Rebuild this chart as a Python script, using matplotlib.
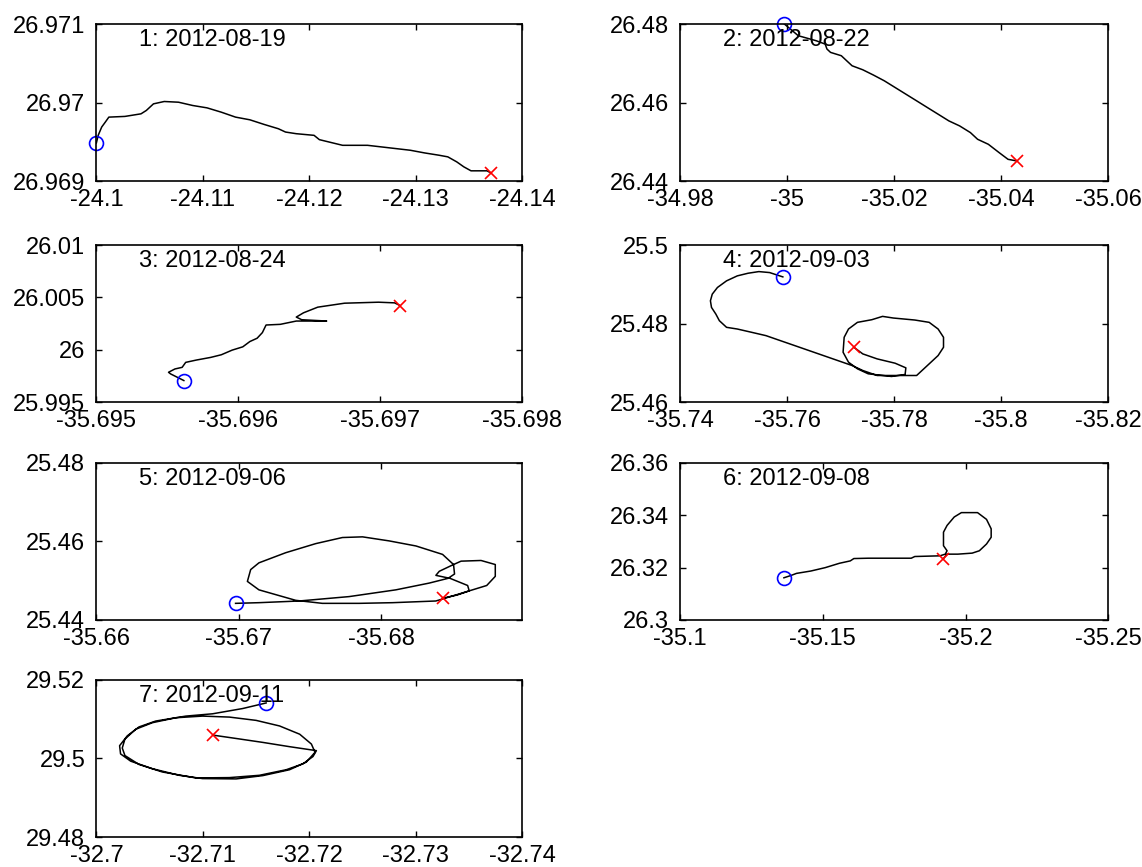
import matplotlib
matplotlib.use('Agg')
import matplotlib.pyplot as plt
import numpy as np
from matplotlib.ticker import FuncFormatter

plt.rcParams['font.family'] = ['Liberation Sans', 'DejaVu Sans']
plt.rcParams['font.size'] = 17
plt.rcParams['axes.unicode_minus'] = False

# float track positions, one list pair per day (first point = start, last = end)
dates = ['2012-08-19', '2012-08-22', '2012-08-24', '2012-09-03',
         '2012-09-06', '2012-09-08', '2012-09-11']

lon1 = [-24.1000, -24.10017, -24.1005, -24.10084, -24.10117, -24.10268, -24.10419,
        -24.10469, -24.10536, -24.10637, -24.10771, -24.10905, -24.11039, -24.11173,
        -24.11307, -24.11441, -24.11575, -24.11709, -24.11776, -24.11876, -24.12044,
        -24.12094, -24.12312, -24.12546, -24.1268, -24.12814, -24.12948, -24.13082,
        -24.13216, -24.133, -24.13384, -24.1345, -24.13518, -24.13668, -24.13702]
lat1 = [26.969485, 26.969582, 26.969688, 26.969751, 26.969814, 26.969823, 26.969856,
        26.969899, 26.969983, 26.970013, 26.970004, 26.969962, 26.969932, 26.969877,
        26.969814, 26.96978, 26.969721, 26.969666, 26.969624, 26.969603, 26.969582,
        26.969527, 26.969455, 26.969455, 26.969434, 26.969413, 26.969392, 26.969358,
        26.969329, 26.969308, 26.969244, 26.969181, 26.96913, 26.96913, 26.969105]

lon2 = [-34.9995, -35.00209, -35.00544, -35.00711, -35.00745, -35.00812, -35.01013,
        -35.01113, -35.01214, -35.01414, -35.01615, -35.01816, -35.02017, -35.02218,
        -35.02419, -35.0262, -35.02821, -35.03021, -35.03222, -35.03423, -35.03557,
        -35.03758, -35.03959, -35.04126, -35.04293]
lat2 = [26.4800, 26.47702, 26.47574, 26.47489, 26.47362, 26.47277, 26.47192,
        26.47064, 26.46936, 26.46834, 26.46698, 26.46553, 26.46383, 26.46213,
        26.46043, 26.45872, 26.45702, 26.45532, 26.45404, 26.45234, 26.45064,
        26.44936, 26.44724, 26.44553, 26.44511]

lon3 = [-35.695616, -35.695523, -35.695508, -35.695553, -35.695604, -35.695629,
        -35.695704, -35.695805, -35.69588, -35.695956, -35.696031, -35.696081,
        -35.696132, -35.696169, -35.696195, -35.696295, -35.696408, -35.696622,
        -35.696446, -35.696408, -35.696459, -35.696559, -35.696748, -35.696987,
        -35.6971, -35.697138]
lat3 = [25.997052, 25.997684, 25.997842, 25.998158, 25.998315, 25.998789,
        25.99901, 25.999263, 25.999516, 25.999958, 26.000273, 26.000779,
        26.001094, 26.001631, 26.002358, 26.002421, 26.002737, 26.002737,
        26.002863, 26.003116, 26.003526, 26.004063, 26.004442, 26.004537,
        26.004474, 26.004221]

lon4 = [-35.75921, -35.75674, -35.75473, -35.75272, -35.75071, -35.7487, -35.7470,
        -35.74603, -35.74569, -35.74589, -35.7467, -35.74736, -35.7487, -35.75071,
        -35.75339, -35.75607, -35.75875, -35.76142, -35.7641, -35.76678, -35.76946,
        -35.77214, -35.77414, -35.77682, -35.78419, -35.78653, -35.7882, -35.78921,
        -35.78921, -35.7882, -35.78653, -35.78385, -35.77984, -35.77783, -35.77582,
        -35.77314, -35.77147, -35.77066, -35.77046, -35.77147, -35.77314, -35.77515,
        -35.7795, -35.78204, -35.78218, -35.78017, -35.77682, -35.77414, -35.77247]
lat4 = [25.49188, 25.49298, 25.49323, 25.49281, 25.49214, 25.49087, 25.48918,
        25.48748, 25.48579, 25.4841, 25.48241, 25.48072, 25.47903, 25.4786,
        25.47776, 25.47691, 25.47564, 25.47438, 25.47311, 25.47184, 25.47057,
        25.4693, 25.46803, 25.46676, 25.46676, 25.46972, 25.47184, 25.47395,
        25.47649, 25.4786, 25.4803, 25.48089, 25.4814, 25.48182, 25.48097,
        25.4803, 25.4786, 25.47649, 25.47268, 25.47015, 25.46846, 25.46719,
        25.46651, 25.46702, 25.46871, 25.46989, 25.47099, 25.47226, 25.47395]

lon5 = [-35.66977, -35.67141, -35.67423, -35.67774, -35.68102, -35.68336, -35.68477,
        -35.68606, -35.68617, -35.68740, -35.68800, -35.68800, -35.68700, -35.68560,
        -35.68507, -35.68407, -35.68383, -35.68472, -35.68514, -35.68507, -35.6843,
        -35.68243, -35.68055, -35.67868, -35.67727, -35.6754, -35.67329, -35.67141,
        -35.67083, -35.6706, -35.67141, -35.67399, -35.67586, -35.67844, -35.68079,
        -35.68383, -35.68524, -35.68617, -35.68535, -35.6843]
lat5 = [25.44424, 25.44441, 25.44484, 25.44596, 25.44768, 25.4494, 25.45069,
        25.44879, 25.44742, 25.44879, 25.45112, 25.45413, 25.45516, 25.45499,
        25.45413, 25.45241, 25.45137, 25.45069, 25.45172, 25.45413, 25.45671,
        25.45886, 25.46015, 25.46118, 25.46101, 25.45946, 25.45714, 25.45456,
        25.45284, 25.44983, 25.44768, 25.44501, 25.44424, 25.44424, 25.44441,
        25.44484, 25.44639, 25.44742, 25.44639, 25.44553]

lon6 = [-35.1364, -35.13891, -35.1408, -35.14581, -35.15084, -35.15586, -35.15962,
        -35.16088, -35.1659, -35.18096, -35.18222, -35.191, -35.19288, -35.19351,
        -35.19226, -35.19226, -35.19351, -35.19602, -35.19853, -35.20418, -35.20732,
        -35.20895, -35.20895, -35.20732, -35.20481, -35.2023, -35.19728, -35.19351,
        -35.19226]
lat6 = [26.31613, 26.31703, 26.31781, 26.31871, 26.3200, 26.32168, 26.32258,
        26.32348, 26.32361, 26.32361, 26.32426, 26.32452, 26.32516, 26.32645,
        26.32839, 26.33355, 26.33613, 26.33936, 26.34103, 26.34103, 26.33845,
        26.33484, 26.33161, 26.32903, 26.32645, 26.32555, 26.32516, 26.32516,
        26.32348]

lon7 = [-32.71594, -32.71374, -32.71092, -32.7084, -32.70557, -32.704, -32.7029,
        -32.70218, -32.70227, -32.70322, -32.70526, -32.70777, -32.70997, -32.71312,
        -32.71563, -32.71814, -32.71971, -32.72053, -32.72019, -32.71909, -32.7172,
        -32.715, -32.71249, -32.70997, -32.70746, -32.70526, -32.70369, -32.70268,
        -32.70243, -32.70268, -32.704, -32.7062, -32.70934, -32.71249, -32.71531,
        -32.71783, -32.7194, -32.72034, -32.72066, -32.71814, -32.71563, -32.71312,
        -32.71098]
lat7 = [29.51415, 29.51273, 29.51139, 29.5108, 29.50954, 29.50804, 29.50577,
        29.50326, 29.50117, 29.49932, 29.4974, 29.49572, 29.49488, 29.4948,
        29.49564, 29.49714, 29.49907, 29.50158, 29.50368, 29.50619, 29.50829,
        29.50971, 29.51055, 29.5108, 29.51038, 29.50912, 29.50745, 29.50494,
        29.50267, 29.50075, 29.49848, 29.49656, 29.49505, 29.49513, 29.49572,
        29.49714, 29.49865, 29.5005, 29.502, 29.50301, 29.5041, 29.5051,
        29.50594]

lons = [lon1, lon2, lon3, lon4, lon5, lon6, lon7]
lats = [lat1, lat2, lat3, lat4, lat5, lat6, lat7]

# axis ranges (x runs westward, so limits are reversed) and tick spacing
xlims = [(-24.1, -24.14), (-34.98, -35.06), (-35.695, -35.698), (-35.74, -35.82),
         (-35.66, -35.6899), (-35.1, -35.25), (-32.7, -32.74)]
ylims = [(26.969, 26.971), (26.44, 26.48), (25.995, 26.01), (25.46, 25.5),
         (25.44, 25.48), (26.3, 26.36), (29.48, 29.52)]
xsteps = [0.01, 0.02, 0.001, 0.02, 0.01, 0.05, 0.01]
ysteps = [0.001, 0.02, 0.005, 0.02, 0.02, 0.02, 0.02]


def make_ticks(lim, step):
    lo, hi = lim
    n = int(np.floor(abs(hi - lo) / step + 1e-6))
    sign = 1 if hi > lo else -1
    return [lo + sign * k * step for k in range(n + 1)]


fmt = FuncFormatter(lambda v, p: f'{v:.6g}')

fig = plt.figure(figsize=(11.42, 8.67), dpi=100)
lefts = [0.0844, 0.5954]
widths = [0.373, 0.3752]
bottoms = [0.7912, 0.5363, 0.2849, 0.0346]
height = 0.1811

for i in range(7):
    r, c = divmod(i, 2)
    ax = fig.add_axes([lefts[c], bottoms[r], widths[c], height])
    ax.plot(lons[i], lats[i], color='k', lw=1.1)
    ax.plot(lons[i][0], lats[i][0], 'o', mfc='none', mec='b', ms=10, mew=1.2,
            clip_on=False)
    ax.plot(lons[i][-1], lats[i][-1], 'x', color='r', ms=9, mew=1.2, clip_on=False)
    ax.set_xlim(xlims[i])
    ax.set_ylim(ylims[i])
    ax.set_xticks(make_ticks(xlims[i], xsteps[i]))
    ax.set_yticks(make_ticks(ylims[i], ysteps[i]))
    ax.xaxis.set_major_formatter(fmt)
    ax.yaxis.set_major_formatter(fmt)
    ax.tick_params(direction='in', top=True, right=True, length=4, width=1)
    ax.tick_params(axis='x', pad=6)
    ax.tick_params(axis='y', pad=8)
    for s in ax.spines.values():
        s.set_linewidth(1.2)
    ax.text(0.1, 0.97, f'{i + 1}: {dates[i]}', transform=ax.transAxes,
            ha='left', va='top')

fig.savefig('out.png', dpi=100)
